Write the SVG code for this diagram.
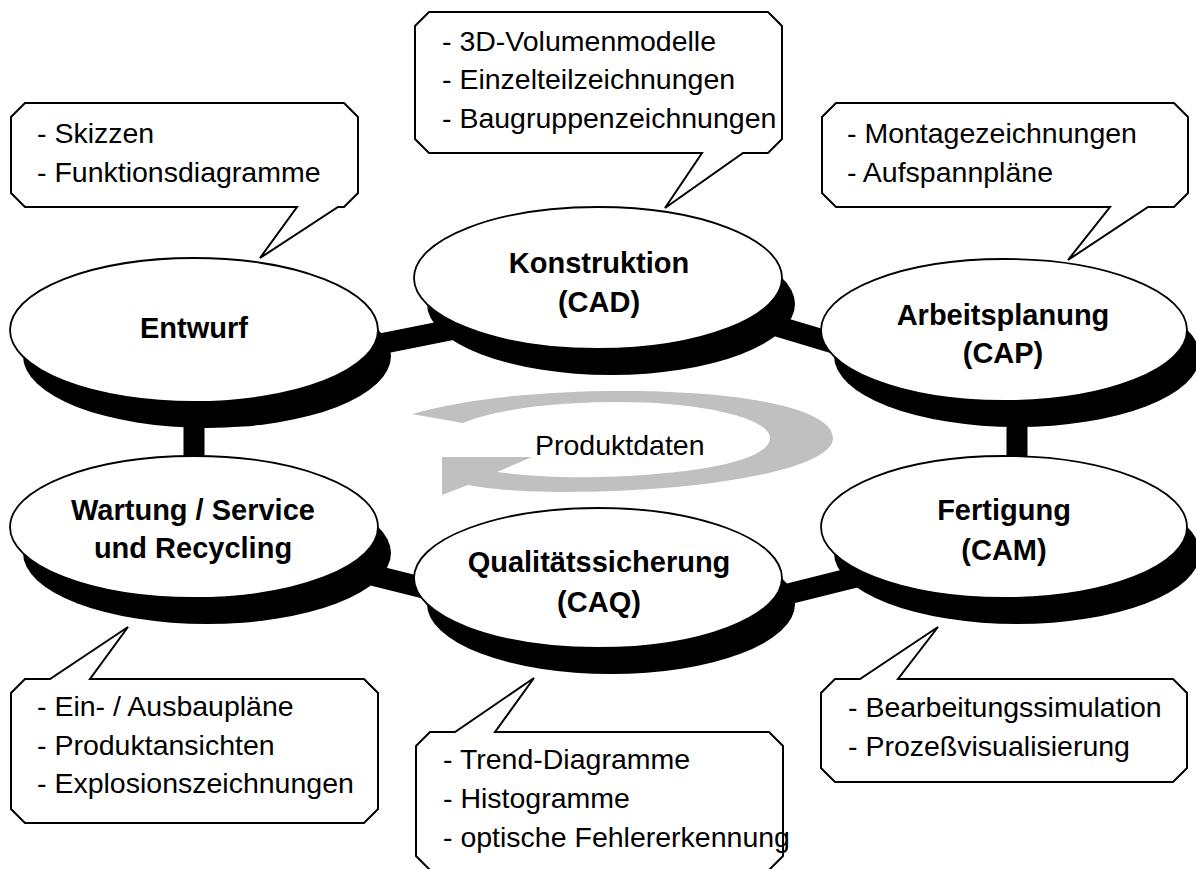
<svg xmlns="http://www.w3.org/2000/svg" width="1196" height="869" viewBox="0 0 1196 869">
  <style>
    .link { stroke: #000; stroke-width: 21; fill: none; }
    .shadow { fill: #000; }
    .face { fill: #fff; stroke: #000; stroke-width: 1.8; }
    .title { font-family: "Liberation Sans", Arial, sans-serif; font-weight: bold; font-size: 29px; fill: #000; text-anchor: middle; }
    .note { fill: #fff; stroke: #000; stroke-width: 2; stroke-linejoin: miter; }
    .item { font-family: "Liberation Sans", Arial, sans-serif; font-size: 28.5px; fill: #000; }
    .flow { fill: #c0c0c0; }
  </style>
  <rect width="1196" height="869" fill="#fff"/>

  <!-- thick bars linking the stages -->
  <g id="connectors">
    <line class="link" x1="300" y1="360" x2="500" y2="320"/>
    <line class="link" x1="700" y1="303" x2="900" y2="363"/>
    <line class="link" x1="1017" y1="400" x2="1017" y2="470"/>
    <line class="link" x1="194" y1="400" x2="194" y2="470"/>
    <line class="link" x1="300" y1="557" x2="500" y2="607"/>
    <line class="link" x1="700" y1="616" x2="900" y2="566"/>
  </g>

  <!-- stage discs: black extrusion below a white face -->
  <g id="entwurf">
    <ellipse class="shadow" cx="207" cy="356" rx="184" ry="72"/>
    <ellipse class="face" cx="194" cy="330" rx="184" ry="72"/>
    <text class="title" x="194" y="338">Entwurf</text>
  </g>
  <g id="konstruktion">
    <ellipse class="shadow" cx="611" cy="304" rx="184" ry="71"/>
    <ellipse class="face" cx="598" cy="278" rx="184" ry="71"/>
    <text class="title" x="599" y="273">Konstruktion</text>
    <text class="title" x="599" y="312">(CAD)</text>
  </g>
  <g id="arbeitsplanung">
    <ellipse class="shadow" cx="1017" cy="356" rx="183" ry="71"/>
    <ellipse class="face" cx="1004" cy="330" rx="183" ry="71"/>
    <text class="title" x="1003" y="325">Arbeitsplanung</text>
    <text class="title" x="1003" y="363">(CAP)</text>
  </g>
  <g id="fertigung">
    <ellipse class="shadow" cx="1017" cy="553" rx="183" ry="71"/>
    <ellipse class="face" cx="1004" cy="527" rx="183" ry="71"/>
    <text class="title" x="1004" y="520">Fertigung</text>
    <text class="title" x="1004" y="560">(CAM)</text>
  </g>
  <g id="qualitaetssicherung">
    <ellipse class="shadow" cx="611" cy="604" rx="184" ry="70"/>
    <ellipse class="face" cx="598" cy="578" rx="184" ry="70"/>
    <text class="title" x="599" y="572">Qualitätssicherung</text>
    <text class="title" x="599" y="612">(CAQ)</text>
  </g>
  <g id="wartung">
    <ellipse class="shadow" cx="207" cy="553" rx="184" ry="71"/>
    <ellipse class="face" cx="194" cy="527" rx="184" ry="71"/>
    <text class="title" x="193" y="520">Wartung / Service</text>
    <text class="title" x="193" y="558">und Recycling</text>
  </g>

  <!-- circular data-flow arrow -->
  <g id="produktdaten">
    <path class="flow" d="M 412,414 C 470,397 560,390 630,391 C 760,392 833,412 833,438 C 833,470 700,492 565,492 C 520,492 490,489 468,485 L 442,495 L 442,457 L 532,457 L 497,472 C 530,476 560,478 600,477 C 710,474 770,458 770,438 C 770,418 700,402 620,402 C 540,402 490,412 463,423 Z"/>
    <text class="item" x="535" y="455">Produktdaten</text>
  </g>

  <!-- callouts with chamfered corners -->
  <g id="callout-entwurf">
    <path class="note" d="M 25,103 H 344 L 358,117 V 193 L 344,207 H 338 L 260,258 L 297,207 H 25 L 11,193 V 117 Z"/>
    <text class="item" x="37" y="143">- Skizzen</text>
    <text class="item" x="37" y="182">- Funktionsdiagramme</text>
  </g>
  <g id="callout-konstruktion">
    <path class="note" d="M 429,12 H 768 L 782,26 V 139 L 768,153 H 743 L 665,208 L 702,153 H 429 L 415,139 V 26 Z"/>
    <text class="item" x="442" y="51">- 3D-Volumenmodelle</text>
    <text class="item" x="442" y="89">- Einzelteilzeichnungen</text>
    <text class="item" x="442" y="128">- Baugruppenzeichnungen</text>
  </g>
  <g id="callout-arbeitsplanung">
    <path class="note" d="M 836,103 H 1174 L 1188,117 V 193 L 1174,207 H 1148 L 1068,260 L 1110,207 H 836 L 822,193 V 117 Z"/>
    <text class="item" x="847" y="143">- Montagezeichnungen</text>
    <text class="item" x="847" y="182">- Aufspannpläne</text>
  </g>
  <g id="callout-wartung">
    <path class="note" d="M 25,679 H 50 L 128,627 L 90,679 H 364 L 378,693 V 809 L 364,823 H 25 L 11,809 V 693 Z"/>
    <text class="item" x="37" y="716">- Ein- / Ausbaupläne</text>
    <text class="item" x="37" y="755">- Produktansichten</text>
    <text class="item" x="37" y="793">- Explosionszeichnungen</text>
  </g>
  <g id="callout-qualitaetssicherung">
    <path class="note" d="M 430,732 H 455 L 534,678 L 495,732 H 769 L 783,746 V 856 L 769,870 H 430 L 416,856 V 746 Z"/>
    <text class="item" x="443" y="769">- Trend-Diagramme</text>
    <text class="item" x="443" y="808">- Histogramme</text>
    <text class="item" x="443" y="847">- optische Fehlererkennung</text>
  </g>
  <g id="callout-fertigung">
    <path class="note" d="M 835,679 H 860 L 938,627 L 898,679 H 1173 L 1187,693 V 768 L 1173,782 H 835 L 821,768 V 693 Z"/>
    <text class="item" x="848" y="717">- Bearbeitungssimulation</text>
    <text class="item" x="848" y="756">- Prozeßvisualisierung</text>
  </g>
</svg>
